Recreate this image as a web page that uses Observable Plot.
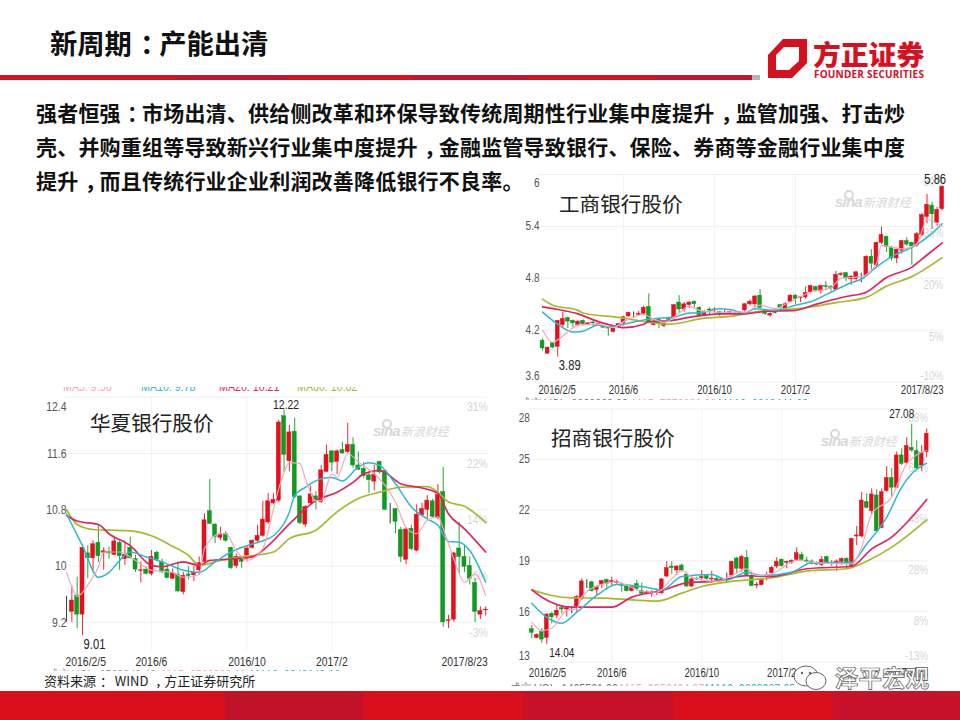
<!DOCTYPE html>
<html lang="zh">
<head>
<meta charset="utf-8">
<script src="https://cdn.jsdelivr.net/npm/d3@7"></script>
<script src="https://cdn.jsdelivr.net/npm/@observablehq/plot@0.6"></script>
<style>
html,body{margin:0;padding:0;background:#fff}
#page{position:relative;width:960px;height:720px;overflow:hidden;background:#fff;font-family:"Noto Sans CJK SC",sans-serif}
.abs{position:absolute;white-space:nowrap}
.line{left:36px;font-weight:700;font-size:21px;letter-spacing:.2px;line-height:34px;height:34px;color:#111}
.ctitle{font-size:20.6px;line-height:26px;color:#222;font-weight:400}
.sina{color:#d8d8d8;font-size:12px;line-height:18px;font-style:italic}
.sina b{font:italic 700 15px/18px "Liberation Sans",sans-serif;letter-spacing:-.8px;margin-right:1px}
.sina i{position:absolute;left:9px;top:-3px;width:6px;height:6px;border:2px solid #d8d8d8;border-radius:50%}
.cut{overflow:hidden;font:13px/14px "Liberation Sans",sans-serif}
.cut span{position:absolute;top:0;transform:scaleX(.82);transform-origin:left}
.seg{position:absolute;top:691px;height:29px}
.pc{display:inline-block;transform:translateX(.3em)}
</style>
</head>
<body>
<div id="page"></div>
<script>
// [open, close, high, low] for each trading candle
const icbcCandles = [
[4.08,3.99,4.10,3.96],[3.93,4.00,4.00,3.92],[4.05,4.00,4.06,3.99],[4.01,4.31,4.31,3.89],[4.26,4.33,4.41,4.23],[4.34,4.30,4.35,4.22],[4.31,4.28,4.32,4.23],[4.26,4.30,4.31,4.24],[4.31,4.27,4.32,4.25],[4.26,4.28,4.29,4.25],
[4.29,4.28,4.31,4.23],[4.26,4.27,4.28,4.25],[4.25,4.23,4.26,4.22],[4.23,4.22,4.24,4.13],[4.18,4.23,4.24,4.17],[4.25,4.27,4.28,4.24],[4.28,4.35,4.36,4.25],[4.36,4.40,4.41,4.35],[4.38,4.38,4.41,4.34],[4.38,4.39,4.42,4.36],
[4.39,4.46,4.48,4.37],[4.47,4.29,4.62,4.28],[4.26,4.30,4.32,4.25],[4.32,4.28,4.33,4.22],[4.25,4.28,4.30,4.23],[4.33,4.32,4.35,4.30],[4.35,4.49,4.50,4.33],[4.52,4.44,4.60,4.40],[4.44,4.50,4.52,4.41],[4.49,4.52,4.53,4.45],
[4.53,4.50,4.54,4.46],[4.46,4.37,4.47,4.35],[4.37,4.41,4.43,4.36],[4.44,4.43,4.46,4.38],[4.43,4.44,4.46,4.40],[4.41,4.39,4.42,4.36],[4.41,4.41,4.43,4.39],[4.40,4.41,4.42,4.38],[4.40,4.40,4.41,4.37],[4.40,4.39,4.41,4.38],
[4.43,4.50,4.51,4.39],[4.50,4.53,4.55,4.48],[4.50,4.59,4.60,4.46],[4.60,4.46,4.67,4.45],[4.43,4.39,4.44,4.37],[4.37,4.39,4.40,4.35],[4.40,4.41,4.42,4.39],[4.49,4.46,4.50,4.44],[4.45,4.50,4.52,4.44],[4.53,4.60,4.61,4.52],
[4.60,4.56,4.61,4.50],[4.57,4.58,4.59,4.52],[4.58,4.63,4.70,4.56],[4.64,4.71,4.72,4.62],[4.70,4.66,4.71,4.64],[4.65,4.71,4.72,4.62],[4.71,4.70,4.76,4.66],[4.70,4.69,4.72,4.65],[4.67,4.84,4.88,4.66],[4.84,4.85,4.87,4.82],
[4.86,4.80,4.87,4.76],[4.79,4.82,4.83,4.72],[4.79,4.87,4.88,4.76],[4.85,4.85,4.86,4.75],[4.83,5.05,5.06,4.82],[5.05,4.97,5.13,4.89],[4.95,5.21,5.22,4.93],[5.21,5.30,5.39,5.19],[5.28,5.16,5.29,5.10],[5.15,5.03,5.17,5.00],
[5.03,5.13,5.14,4.97],[5.12,5.23,5.24,5.08],[5.23,5.19,5.27,5.17],[5.21,5.17,5.22,4.95],[5.18,5.31,5.33,5.16],[5.30,5.53,5.55,5.28],[5.51,5.65,5.77,5.43],[5.64,5.54,5.68,5.37],[5.44,5.59,5.62,5.40],[5.60,5.86,5.86,5.58]];
// [candle index, average]
const icbcMA5 = [[0,4.20],[2,4.06],[3,4.09],[5,4.18],[7,4.26],[11,4.27],[14,4.23],[16,4.30],[20,4.38],[22,4.33],[24,4.29],[26,4.35],[27,4.40],[29,4.48],[31,4.43],[34,4.41],[40,4.41],[43,4.49],[46,4.45],[48,4.50],[53,4.64],[57,4.69],[59,4.80],[63,4.82],[66,4.97],[67,5.18],[71,5.14],[74,5.20],[76,5.48],[79,5.40]];
const icbcMA10 = [[0,4.41],[3,4.27],[6,4.18],[8,4.19],[11,4.26],[13,4.24],[16,4.27],[20,4.32],[23,4.34],[26,4.35],[29,4.40],[31,4.40],[35,4.45],[37,4.44],[40,4.40],[42,4.45],[46,4.43],[50,4.49],[53,4.53],[57,4.64],[61,4.75],[63,4.79],[66,4.93],[69,5.05],[74,5.19],[77,5.32],[79,5.43]];
const icbcMA20 = [[0,4.47],[3,4.44],[7,4.39],[11,4.30],[15,4.24],[16,4.23],[20,4.27],[21,4.30],[25,4.31],[29,4.35],[35,4.39],[40,4.39],[44,4.42],[50,4.43],[54,4.50],[60,4.59],[64,4.64],[68,4.81],[73,4.93],[76,5.07],[79,5.21]];
const icbcMA60 = [[0,4.56],[2,4.49],[7,4.43],[8,4.40],[15,4.35],[25,4.27],[32,4.34],[37,4.36],[42,4.41],[52,4.46],[58,4.52],[64,4.58],[68,4.71],[73,4.82],[79,5.04]];

const hxCandles = [
[9.49,9.49,9.57,9.20],[9.35,9.51,9.72,9.20],[9.58,9.31,9.84,9.11],[9.31,10.26,10.27,9.01],[10.18,10.11,10.29,9.82],[10.11,10.31,10.36,9.94],[10.33,10.14,10.58,10.05],[10.19,10.21,10.26,9.94],[10.20,10.18,10.27,10.10],[10.16,10.35,10.39,10.15],
[10.33,10.14,10.36,9.94],[10.10,10.16,10.36,10.01],[10.26,10.11,10.41,10.10],[10.10,9.95,10.15,9.91],[9.93,9.94,10.06,9.76],[9.95,9.89,9.99,9.87],[9.89,10.13,10.22,9.86],[10.19,10.09,10.21,10.06],[10.05,9.91,10.10,9.89],[9.95,9.83,9.99,9.82],
[9.82,9.90,9.96,9.81],[9.88,9.64,10.06,9.62],[9.63,9.86,9.91,9.59],[9.88,9.86,9.99,9.80],[9.87,9.90,10.00,9.78],[9.94,10.04,10.13,9.87],[10.06,10.65,10.74,10.03],[10.78,10.60,11.23,10.59],[10.59,10.41,10.60,10.32],[10.40,10.45,10.55,10.36],
[10.46,10.36,10.49,10.34],[10.26,9.97,10.27,9.95],[10.00,10.13,10.17,9.97],[10.13,10.06,10.14,9.97],[10.15,10.25,10.28,10.06],[10.26,10.36,10.37,10.24],[10.36,10.43,10.58,10.34],[10.43,10.66,10.92,10.41],[10.62,10.92,11.03,10.59],[10.89,10.94,11.03,10.88],
[10.93,12.04,12.07,10.90],[12.13,11.58,12.22,11.33],[11.49,11.90,12.00,11.34],[11.91,10.98,12.10,10.96],[10.99,10.61,11.00,10.59],[10.59,10.84,10.86,10.55],[10.89,11.02,11.14,10.87],[10.99,10.93,11.06,10.80],[10.91,11.36,11.43,10.89],[11.34,11.58,11.72,11.33],
[11.63,11.47,11.64,11.34],[11.48,11.63,11.65,11.30],[11.65,11.60,11.76,11.59],[11.62,11.72,12.03,11.60],[11.72,11.43,11.82,11.39],[11.43,11.37,11.62,11.36],[11.38,11.28,11.47,11.25],[11.29,11.22,11.33,11.03],[11.20,11.30,11.43,11.07],[11.48,11.33,11.49,11.31],
[11.35,10.80,11.36,10.79],[10.81,10.81,10.89,10.60],[10.81,10.63,10.82,10.46],[10.51,10.13,10.55,10.05],[10.09,10.52,10.54,10.02],[10.53,10.24,10.58,10.22],[10.22,10.73,10.87,10.20],[10.72,10.81,10.89,10.70],[10.80,10.93,11.00,10.67],[10.92,10.70,10.95,10.68],
[10.68,11.01,11.16,10.66],[11.05,9.20,11.40,9.13],[9.22,9.23,9.30,9.11],[9.24,10.18,10.19,9.20],[10.25,10.13,10.62,9.89],[10.13,9.99,10.29,9.91],[10.00,9.82,10.13,9.73],[9.76,9.35,9.82,9.20],[9.31,9.36,9.42,9.24],[9.37,9.38,9.42,9.29]];
const hxMA5 = [[0,9.91],[1,9.70],[2,9.57],[4,9.73],[6,9.99],[7,10.20],[10,10.20],[13,10.08],[16,9.94],[20,9.91],[22,9.84],[25,9.88],[26,10.25],[29,10.46],[30,10.46],[32,10.22],[34,10.08],[37,10.25],[39,10.81],[40,11.10],[41,11.33],[42,11.47],[44,11.46],[45,11.24],[47,10.93],[48,10.93],[50,11.31],[51,11.26],[53,11.60],[55,11.48],[58,11.31],[60,11.15],[62,10.91],[64,10.55],[66,10.46],[68,10.65],[70,10.70],[71,10.53],[73,10.10],[75,9.77],[77,9.89],[79,9.58]];
const hxMA10 = [[0,10.74],[3,10.29],[6,9.84],[8,9.91],[10,10.08],[12,10.20],[15,10.13],[18,10.06],[22,9.94],[25,9.91],[28,10.06],[31,10.20],[34,10.29],[37,10.36],[39,10.43],[42,10.77],[43,11.00],[45,11.12],[48,11.24],[50,11.26],[52,11.21],[55,11.41],[57,11.47],[59,11.43],[62,11.17],[65,10.84],[68,10.67],[70,10.58],[72,10.35],[74,10.34],[76,10.22],[79,9.77]];
const hxMA20 = [[0,10.72],[2,10.64],[6,10.59],[8,10.46],[12,10.29],[16,10.01],[18,9.99],[22,10.06],[25,10.01],[27,10.08],[31,10.10],[35,10.13],[38,10.29],[42,10.60],[47,10.93],[51,11.05],[54,11.19],[56,11.31],[59,11.36],[63,11.17],[67,11.11],[70,11.03],[72,10.74],[75,10.53],[79,10.20]];
const hxMA60 = [[0,10.80],[2,10.59],[5,10.52],[8,10.51],[12,10.50],[16,10.43],[20,10.28],[23,10.15],[25,10.01],[29,10.08],[33,10.13],[39,10.20],[42,10.39],[47,10.51],[51,10.77],[55,10.96],[59,11.05],[63,11.12],[68,11.13],[70,11.05],[72,10.91],[75,10.85],[79,10.62]];

const cmbCandles = [
[14.96,14.74,15.17,14.38],[14.44,14.62,14.68,14.40],[14.78,14.34,15.00,14.12],[14.44,15.82,15.86,14.04],[15.86,15.66,15.96,15.27],[15.76,16.05,16.35,15.57],[16.20,16.12,16.35,15.86],[16.12,16.20,16.26,15.66],[16.10,16.10,16.26,15.86],[16.30,16.85,16.95,15.96],
[16.75,17.78,17.93,16.65],[17.75,17.75,17.88,17.35],[17.73,17.20,17.79,17.16],[17.28,17.44,17.54,16.95],[17.58,17.80,17.84,17.34],[17.87,17.63,17.93,17.24],[17.74,17.80,18.03,17.54],[17.68,17.74,17.84,17.60],[17.60,17.52,17.68,17.14],[17.48,17.20,17.60,17.16],
[17.20,17.44,17.54,17.16],[17.63,17.34,17.84,17.24],[17.20,17.05,17.68,17.01],[17.08,17.16,17.24,16.99],[17.10,17.13,17.24,16.85],[17.08,17.16,17.24,16.95],[17.08,17.90,17.94,17.01],[18.07,18.57,18.96,17.99],[18.66,18.57,18.94,18.20],[18.43,18.66,18.72,18.13],
[18.72,18.39,18.82,18.33],[18.19,17.48,18.27,17.44],[17.48,17.90,18.03,17.40],[17.94,17.90,18.03,17.84],[17.97,18.03,18.42,17.84],[18.09,17.93,18.19,17.84],[17.90,17.95,18.39,17.68],[17.93,17.84,18.07,17.74],[17.84,17.88,18.00,17.74],[17.93,17.93,18.27,17.68],
[18.13,18.94,18.98,18.03],[19.14,18.53,19.22,18.23],[18.53,19.22,19.32,18.33],[19.18,18.17,19.60,18.11],[18.07,17.50,18.19,17.48],[17.54,17.58,17.74,17.34],[17.56,17.87,17.93,17.52],[18.05,18.10,18.33,17.80],[18.27,18.58,18.68,18.03],[18.66,18.94,19.18,18.53],
[19.06,18.68,19.12,18.63],[18.88,18.94,18.98,18.53],[18.90,19.00,19.06,18.80],[19.06,19.45,19.77,18.98],[19.35,19.06,19.51,18.98],[19.02,18.94,19.22,18.82],[18.96,18.82,19.06,18.76],[18.86,18.78,18.94,18.72],[18.76,19.06,19.26,18.68],[19.22,18.90,19.26,18.82],
[18.82,18.88,19.02,18.68],[18.86,18.96,19.06,18.38],[18.94,19.10,19.18,18.72],[19.12,18.82,19.18,18.53],[18.68,20.30,20.34,18.63],[20.44,20.50,21.03,19.90],[20.44,22.57,23.06,20.36],[22.47,22.14,22.96,22.08],[21.94,22.93,23.26,21.72],[22.87,20.75,23.20,20.69],
[20.95,23.06,23.26,20.89],[23.13,23.90,24.58,23.06],[23.90,23.33,24.45,22.77],[23.33,25.24,25.44,23.28],[25.24,24.74,25.63,24.64],[24.80,25.79,26.28,24.74],[25.69,25.53,27.08,25.43],[25.49,24.48,26.10,24.40],[24.64,25.39,25.83,24.30],[25.43,26.52,26.80,25.10]];
const cmbMA5 = [[0,15.37],[2,14.87],[4,15.01],[7,16.06],[9,16.16],[10,16.85],[13,17.50],[17,17.74],[22,17.20],[25,17.14],[28,17.93],[30,18.43],[32,18.03],[37,17.78],[40,18.13],[43,18.53],[45,18.13],[48,18.23],[53,19.02],[58,18.86],[64,18.82],[66,19.81],[68,21.78],[72,22.77],[75,24.74],[79,25.53]];
const cmbMA10 = [[0,16.49],[3,15.66],[6,15.31],[9,15.96],[13,16.95],[17,17.60],[22,17.48],[26,17.28],[30,18.07],[36,18.19],[39,17.87],[43,18.33],[46,18.13],[52,18.33],[56,18.88],[64,18.92],[67,20.00],[71,21.58],[74,23.36],[76,24.15],[79,24.78]];
const cmbMA20 = [[0,17.28],[2,16.85],[8,16.26],[16,16.26],[20,16.85],[26,17.24],[31,17.70],[37,17.80],[43,18.13],[48,18.07],[55,18.53],[64,18.68],[68,19.71],[72,20.40],[76,21.58],[79,22.63]];
const cmbMA60 = [[0,17.28],[4,16.95],[8,16.81],[14,16.79],[20,16.69],[25,16.61],[30,17.09],[34,17.48],[40,17.78],[48,18.00],[55,18.39],[63,18.53],[68,19.12],[72,19.81],[79,21.43]];

// date tick labels share the same candle positions in all three panels
const monthTickIndex = [16,34,50];
const monthTickLabels = ["2016/6","2016/10","2017/2"];
const firstDate = "2016/2/5", lastDate = "2017/8/23";

const icbcPriceTicks = [6,5.4,4.8,4.2,3.6];
const icbcPctLabels = ["50%","35%","20%","5%","-10%"];
const hxPriceTicks = [12.4,11.6,10.8,10,9.2];
const hxPctLabels = ["31%","22%","14%","6%","-3%"];
const cmbPriceTicks = [28,25,22,19,16,13];
const cmbPctLabels = ["88%","68%","48%","28%","8%","-13%"];

const maColors = {ma5:"#f4a6c0",ma10:"#2cb8cf",ma20:"#e0245f",ma60:"#a8b92a"};
const up = "#e4101c", down = "#0f9a20", flat = "#222";
const sans = '"Liberation Sans",sans-serif';
const page = document.getElementById("page");

function candleChart(c){
  const rows = c.candles.map((d,i)=>({i,o:d[0],c:d[1],h:d[2],l:d[3],col:d[1]>d[0]?up:d[1]<d[0]?down:flat}));
  const ys = c.ticks;
  const edge = (v)=> v===ys[0]||v===ys[ys.length-1];
  const mid = ys.filter(v=>!edge(v));
  const pct = new Map(ys.map((v,i)=>[v,c.pct[i]]));
  const dateAxis = {tickSize:0,tickPadding:c.datePad,fontSize:c.dateSize,color:"#333",label:null};
  const yLab = {tickSize:0,tickPadding:0,dx:1,fontSize:c.tickSize,color:"#555",label:null,tickFormat:v=>String(v)};
  const line = (pts,stroke,w)=>Plot.line(pts,{x:d=>d[0],y:d=>d[1],stroke:()=>stroke,strokeWidth:w,curve:"monotone-x"});
  const svg = Plot.plot({
    width:c.w,height:c.h,marginLeft:c.ml,marginRight:c.mr,marginTop:c.mt,marginBottom:c.mb,
    x:{domain:c.xd,axis:null},y:{domain:c.yd,axis:null},color:{type:"identity"},
    style:{background:"transparent",fontFamily:sans,overflow:"visible"},
    marks:[
      Plot.gridY(ys,{stroke:"#efefef",strokeOpacity:1}),
      Plot.gridX(monthTickIndex,{stroke:"#f2f2f2",strokeOpacity:1}),
      Plot.axisY(mid,{...yLab,anchor:"left"}),
      Plot.axisY([ys[0]],{...yLab,anchor:"left",dy:c.topDy}),
      Plot.axisY([ys[ys.length-1]],{...yLab,anchor:"left",dy:c.botDy}),
      Plot.axisY(ys.slice(0,-1),{tickSize:0,tickPadding:0,anchor:"right",textAnchor:"end",dy:c.pctDy,fontSize:c.tickSize,color:"#d6d6d6",label:null,tickFormat:v=>pct.get(v)}),
      Plot.axisY(ys.slice(-1),{tickSize:0,tickPadding:0,anchor:"right",textAnchor:"end",dy:c.pctLastDy,fontSize:c.tickSize,color:"#d6d6d6",label:null,tickFormat:v=>pct.get(v)}),
      Plot.axisX(monthTickIndex,{...dateAxis,tickFormat:(v)=>monthTickLabels[monthTickIndex.indexOf(v)]}),
      Plot.axisX([c.xd[0]],{...dateAxis,textAnchor:"start",tickFormat:()=>firstDate}),
      Plot.axisX([c.xd[1]],{...dateAxis,textAnchor:"end",tickFormat:()=>lastDate}),
      Plot.ruleX(rows,{x:"i",y1:"l",y2:"h",stroke:"col",strokeWidth:.9}),
      Plot.rect(rows,{x1:d=>d.i-c.bw,x2:d=>d.i+c.bw,y1:"o",y2:"c",fill:"col",stroke:"col",strokeWidth:.5}),
      line(c.ma60,maColors.ma60,1.7),
      line(c.ma20,maColors.ma20,1.7),
      line(c.ma10,maColors.ma10,1.5),
      line(c.ma5,maColors.ma5,1.2),
      ...c.notes.map(n=>Plot.text([n],{x:d=>d[0],y:d=>d[1],text:d=>d[1].toFixed(2),dx:n[2],dy:n[3],fontSize:n[4],fill:"#222",textAnchor:"middle"}))
    ]
  });
  const box = document.createElement("div");
  box.className="abs";
  box.style.left=c.left+"px";box.style.top=c.top+"px";
  box.appendChild(svg);
  page.appendChild(box);
  // the source chart's numerals are horizontally squeezed
  svg.querySelectorAll("text").forEach(t=>{
    const L=t.getComputedTextLength();
    if(L>0){t.setAttribute("textLength",(L*.8).toFixed(1));t.setAttribute("lengthAdjust","spacingAndGlyphs");}
  });
}

// header rule and footer bands
const footerBands = [[0,225,"#d90f1b"],[225,138,"#c01229"],[363,160,"#d90f1b"],[523,150,"#c5112a"],[673,160,"#d90f1b"],[833,127,"#c8112a"]];
footerBands.forEach(b=>{const s=document.createElement("div");s.className="seg";s.style.cssText+=`left:${b[0]}px;width:${b[1]}px;background:${b[2]}`;page.appendChild(s);});
const ruleBands = [[0,177,"#d9121f"],[177,110,"#c0162f"],[287,126,"#d9121f"],[413,114,"#c0162f"],[527,128,"#d9121f"],[655,97,"#c0162f"],[752,8,"#b4b4b4"]];

function add(html,css,cls){const e=document.createElement("div");e.className="abs "+(cls||"");e.style.cssText+=css;e.innerHTML=html;page.appendChild(e);return e;}
const punct = t=>t.replace(/[：，]/g,m=>`<span class="pc">${m}</span>`);

add(punct("新周期：产能出清"),"left:50px;top:24px;font-size:27.3px;line-height:36px;font-weight:700;color:#111");
ruleBands.forEach(b=>add("",`left:${b[0]}px;top:75px;width:${b[1]}px;height:5px;background:${b[2]}`));
add('<svg width="40" height="40" viewBox="0 0 40 40"><path fill="#d7101f" fill-rule="evenodd" d="M15 0H39V24L24 39H0V16ZM8 16V31H21L31 22V8H16Z"/></svg>',"left:768px;top:39px;width:40px;height:40px");
add("方正证券","left:813px;top:34px;font-size:27.8px;line-height:38px;font-weight:900;color:#d7101f");
add("FOUNDER SECURITIES",'left:814px;top:68px;font:700 10px/13px "Open Sans",sans-serif;letter-spacing:.2px;color:#d7101f');

["强者恒强：市场出清、供给侧改革和环保导致传统周期性行业集中度提升，监管加强、打击炒",
 "壳、并购重组等导致新兴行业集中度提升，金融监管导致银行、保险、券商等金融行业集中度",
 "提升，而且传统行业企业利润改善降低银行不良率。"].forEach((t,i)=>add(punct(t),`top:${95+34*i}px`,"line"));

candleChart({candles:icbcCandles,ma5:icbcMA5,ma10:icbcMA10,ma20:icbcMA20,ma60:icbcMA60,ticks:icbcPriceTicks,pct:icbcPctLabels,
  left:510,top:170,w:450,h:235,ml:28,mr:17,mt:4,mb:23.3,xd:[-0.8,79.26],yd:[3.6,6],bw:.38,tickSize:12.5,dateSize:12,datePad:3,topDy:8,botDy:-6,pctDy:7,pctLastDy:-6,
  notes:[[3,3.89,12,8,14],[79,5.86,-7,-7,14]]});
candleChart({candles:hxCandles,ma5:hxMA5,ma10:hxMA10,ma20:hxMA20,ma60:hxMA60,ticks:hxPriceTicks,pct:hxPctLabels,
  left:30,top:385,w:470,h:290,ml:35,mr:12.7,mt:11.7,mb:25,xd:[-0.2,79.4],yd:[8.8,12.4],bw:.38,tickSize:13,dateSize:13,datePad:6,topDy:10,botDy:0,pctDy:10,pctLastDy:10,
  notes:[[3,9.01,12,9,14],[41,12.22,2,-5,13]]});
candleChart({candles:cmbCandles,ma5:cmbMA5,ma10:cmbMA10,ma20:cmbMA20,ma60:cmbMA60,ticks:cmbPriceTicks,pct:cmbPctLabels,
  left:500,top:400,w:460,h:290,ml:28.3,mr:32.3,mt:8.3,mb:28.3,xd:[-0.6,79.3],yd:[13,28],bw:.38,tickSize:12.5,dateSize:12,datePad:6,topDy:9,botDy:-6,pctDy:9,pctLastDy:-6,
  notes:[[3,14.04,15,8,12.5],[76,27.08,-10,-10,12.5]]});

add("工商银行股价","left:559px;top:190px","ctitle");
add("华夏银行股价","left:90px;top:409px","ctitle");
add("招商银行股价","left:551px;top:424px","ctitle");
[[835,193],[373,422],[821,432]].forEach(p=>add("<i></i><b>sina</b>新浪财经",`left:${p[0]}px;top:${p[1]}px`,"sina"));

// legends cut off by the slide's crop
function cut(left,top,width,height,offset,items){
  const e=add("",`left:${left}px;top:${top}px;width:${width}px;height:${height}px`,"cut");
  items.forEach(it=>{const s=document.createElement("span");s.textContent=it[1];s.style.left=it[0]+"px";s.style.top=offset+"px";s.style.color=it[2];e.appendChild(s);});
}
cut(63,387,330,5,-7,[[0,"MA5: 9.56",maColors.ma5],[78,"MA10: 9.78",maColors.ma10],[156,"MA20: 10.21",maColors.ma20],[234,"MA60: 10.62",maColors.ma60]]);
cut(520,397,400,3,0,[[0,"成交 VOL: 8898368.89","#777"],[112,"MA5: 7573288.38",maColors.ma5],[198,"MA10: 8318441.89",maColors.ma10]]);
cut(48,668,320,3,0,[[0,"成交 VOL: 3568848.48","#999"],[114,"MA5: 2528888.88",maColors.ma5],[202,"MA10: 2848143.18",maColors.ma10]]);
cut(510,682,330,4,0,[[0,"成交 VOL: 1405501.00","#777"],[110,"MA5: 9950404.07",maColors.ma5],[195,"MA10: 9608987.05",maColors.ma10]]);

add(punct("资料来源：  WIND ，方正证券研究所"),"left:44px;top:672px;font-size:13px;line-height:18px;color:#222;white-space:pre");

// WeChat-style watermark
add('<svg width="40" height="30" viewBox="0 0 40 30"><ellipse cx="16" cy="13" rx="12" ry="10" fill="#fff" stroke="#666" stroke-width="1"/><ellipse cx="26" cy="18" rx="10" ry="8.5" fill="#fff" stroke="#666" stroke-width="1"/><circle cx="12" cy="10" r="1.2" fill="#666"/><circle cx="20" cy="10" r="1.2" fill="#666"/></svg>',"left:790px;top:663px;width:40px;height:30px");
add("泽平宏观","left:835px;top:662px;font-size:23.5px;line-height:30px;color:#fff;-webkit-text-stroke:.7px #555;font-weight:700");
</script>
</body>
</html>
